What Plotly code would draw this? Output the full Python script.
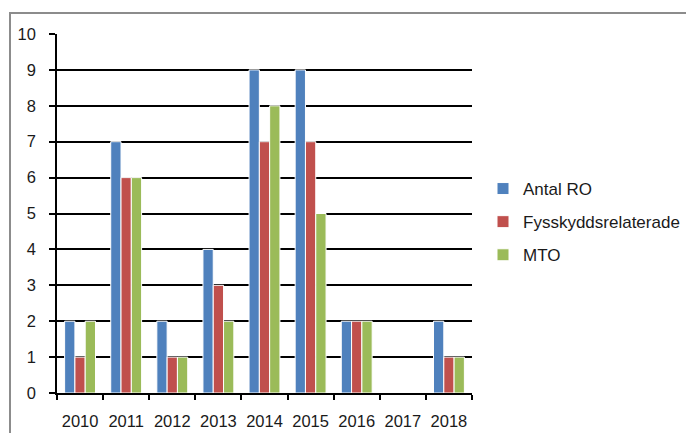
import plotly.graph_objects as go

years = ["2010", "2011", "2012", "2013", "2014", "2015", "2016", "2017", "2018"]
antal_ro = [2, 7, 2, 4, 9, 9, 2, 0, 2]
fysskydd = [1, 6, 1, 3, 7, 7, 2, 0, 1]
mto = [2, 6, 1, 2, 8, 5, 2, 0, 1]

series = [
    ("Antal RO", antal_ro, "#4F81BD"),
    ("Fysskyddsrelaterade", fysskydd, "#C0504D"),
    ("MTO", mto, "#9BBB59"),
]

FONT = "Liberation Sans, Arial, sans-serif"

fig = go.Figure()
for i, (name, vals, col) in enumerate(series):
    fig.add_trace(go.Bar(
        x=years, y=vals, name=name, legendgroup=f"g{i}",
        marker=dict(color=col, line=dict(color="white", width=1)),
    ))

# page body has an 8px margin, so figure coords = screen coords - 8
OFF = 8
W, H = 694 - OFF, 433 - OFF
L, T = 57 - OFF, 34 - OFF
R = W - (472 - OFF)
B = H - (393 - OFF)
pw, ph = W - L - R, H - T - B

fig.update_layout(
    width=W, height=H,
    margin=dict(l=L, r=R, t=T, b=B, pad=0, autoexpand=False),
    paper_bgcolor="white", plot_bgcolor="white",
    barmode="group", bargap=0.33, bargroupgap=0,
    font=dict(family=FONT, size=16.5, color="#1a1a1a"),
    showlegend=True,
    legend=dict(
        x=(475 - L) / pw, xanchor="left",
        y=(H - B - (222 - OFF)) / ph, yanchor="middle",
        font=dict(family=FONT, size=17, color="#1a1a1a"),
        tracegroupgap=8, bgcolor="rgba(0,0,0,0)",
    ),
    xaxis=dict(
        type="category", showgrid=False, showline=True, linecolor="black", linewidth=1.5,
        ticks="outside", tickson="boundaries", ticklen=5, tickcolor="black", tickwidth=1.5,
        ticklabelstandoff=12, tickangle=0, tickfont=dict(size=16.5), automargin=False,
    ),
    yaxis=dict(
        range=[0, 10], dtick=1, showgrid=True, gridcolor="black", gridwidth=1.5,
        showline=True, linecolor="black", linewidth=1.5, zeroline=False,
        ticks="outside", ticklen=6, tickcolor="black", tickwidth=1.5,
        ticklabelstandoff=10, tickfont=dict(size=16.5), automargin=False,
    ),
    shapes=[dict(
        type="rect", xref="paper", yref="paper",
        x0=(10 - OFF - L) / pw, x1=(W + 20 - L) / pw,
        y0=(H - B - (H + 20)) / ph, y1=(H - B - (13 - OFF)) / ph,
        line=dict(color="#8c8c8c", width=2), fillcolor="rgba(0,0,0,0)", layer="below",
    )],
)

fig.write_html("out.html")
